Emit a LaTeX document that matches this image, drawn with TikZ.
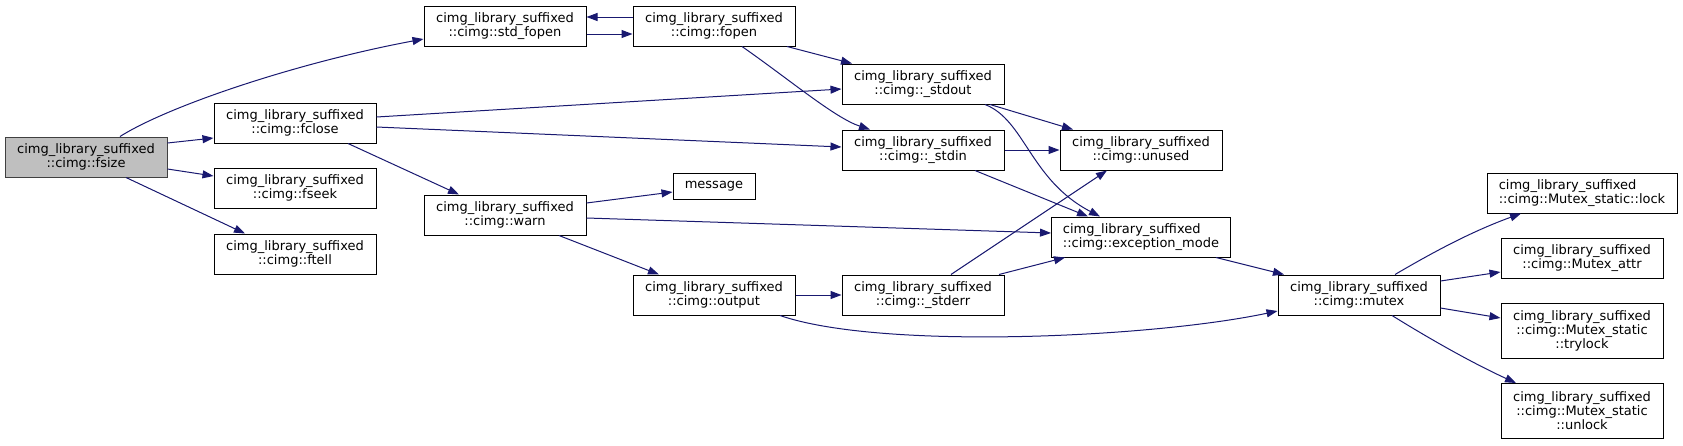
\documentclass[tikz,border=0pt]{standalone}
\usepackage{fontspec}
\setmainfont{DejaVu Sans}
\usetikzlibrary{arrows.meta}
\definecolor{edgeblue}{HTML}{191970}
\definecolor{rootgray}{HTML}{BFBFBF}

\begin{document}
\begin{tikzpicture}[x=1pt,y=-1pt,
    fn/.style={draw=black, fill=white, line width=1pt, align=center, inner sep=0pt,
      font=\fontsize{13}{14}\selectfont},
    fnl/.style={fn, align=left},
    root/.style={fn, draw=black!75, fill=rootgray},
    call/.style={draw=edgeblue, line width=1pt, -{Triangle[length=11pt,width=8pt]}}]
  \useasboundingbox (0,0) rectangle (1683,445);
  \def\fns{86/157/162/40/root/{cimg\_library\_suffixed\\::cimg::fsize},
    295/123/162/40/fn/{cimg\_library\_suffixed\\::cimg::fclose},
    295/188/162/40/fn/{cimg\_library\_suffixed\\::cimg::fseek},
    295/254/162/40/fn/{cimg\_library\_suffixed\\::cimg::ftell},
    505/26/162/40/fn/{cimg\_library\_suffixed\\::cimg::std\_fopen},
    505/215/162/40/fn/{cimg\_library\_suffixed\\::cimg::warn},
    714/26/162/40/fn/{cimg\_library\_suffixed\\::cimg::fopen},
    714/186/82/26/fn/{message},
    714/295/162/40/fn/{cimg\_library\_suffixed\\::cimg::output},
    923/84/162/40/fn/{cimg\_library\_suffixed\\::cimg::\_stdout},
    923/150/162/40/fn/{cimg\_library\_suffixed\\::cimg::\_stdin},
    923/295/162/40/fn/{cimg\_library\_suffixed\\::cimg::\_stderr},
    1141/150/162/40/fn/{cimg\_library\_suffixed\\::cimg::unused},
    1141/237/179/40/fnl/{cimg\_library\_suffixed\\::cimg::exception\_mode},
    1359/295/162/40/fn/{cimg\_library\_suffixed\\::cimg::mutex},
    1582/193/190/40/fnl/{cimg\_library\_suffixed\\::cimg::Mutex\_static::lock},
    1582/258/162/40/fn/{cimg\_library\_suffixed\\::cimg::Mutex\_attr},
    1582/331/162/55/fn/{cimg\_library\_suffixed\\::cimg::Mutex\_static\\::trylock},
    1582/411/162/55/fn/{cimg\_library\_suffixed\\::cimg::Mutex\_static\\::unlock}}
  % 1 fsize, 2-4 fclose fseek ftell, 5-6 std_fopen warn, 7-9 fopen message output,
  % 10-12 _stdout _stdin _stderr, 13-14 unused exception_mode, 15 mutex, 16-19 Mutex_*
  \foreach \x/\y/\w/\h/\s/\t [count=\i from 1] in \fns
    {\node[\s, minimum width=\w pt, minimum height=\h pt] (f\i) at (\x,\y) {\t};}
  \foreach \a/\p/\dx/\dy/\b/\q/\ex/\ey in {1/east/0/-14/2/west/0/15, 1/east/0/12/3/west/0/-12,
      1/south/40/0/4/north/-50/0, 2/east/0/-6/10/west/0/5, 2/east/0/4/11/west/0/-3,
      2/south/53/0/6/north/-46/0, 5/east/0/8/7/west/0/8, 7/west/0/-9/5/east/0/-9,
      7/south/73/0/10/north/-71/0, 10/south/67/0/13/north/-68/0, 11/east/0/0/13/west/0/0,
      11/south/52/0/14/north/-53/0, 6/east/0/-12/8/west/0/6, 6/east/0/3/14/west/0/-4,
      6/south/54/0/9/north/-55/0, 9/east/0/0/12/west/0/0, 12/north/28/0/13/south/-34/0,
      12/north/76/0/14/south/-76/0, 14/south/75/0/15/north/-75/0,
      15/east/0/-14/17/west/0/14, 15/east/0/13/18/west/0/-13}
    {\draw[call] ([shift={(\dx,\dy)}]f\a.\p) -- ([shift={(\ex,\ey)}]f\b.\q);}
  \draw[call] ([shift={(34,0)}]f1.north) .. controls (170,105) and (300,62) .. ([shift={(0,13)}]f5.west);
  \draw[call] ([shift={(28,0)}]f7.south) .. controls (790,80) and (835,118) .. ([shift={(-53,0)}]f11.north);
  \draw[call] ([shift={(62,0)}]f10.south) .. controls (1025,120) and (1030,180) .. ([shift={(-41,0)}]f14.north);
  \draw[call] ([shift={(66,0)}]f9.south) .. controls (880,350) and (1150,338) .. ([shift={(0,16)}]f15.west);
  \draw[call] ([shift={(36,0)}]f15.north) .. controls (1430,254) and (1470,232) .. ([shift={(-61,0)}]f16.south);
  \draw[call] ([shift={(33,0)}]f15.south) .. controls (1425,336) and (1470,362) .. ([shift={(-66,0)}]f19.north);
\end{tikzpicture}
\end{document}
